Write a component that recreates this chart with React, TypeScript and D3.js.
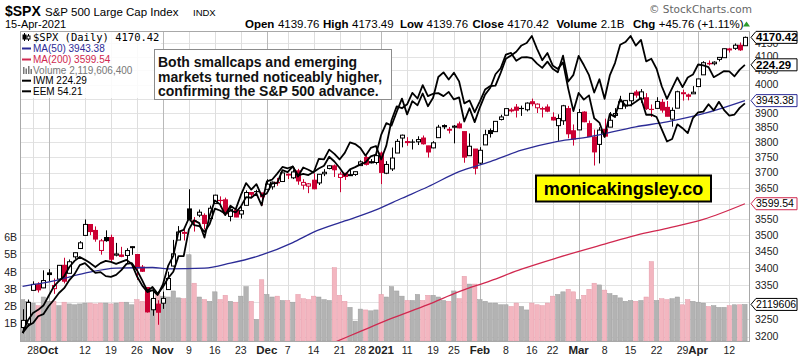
import React from "react";
import * as d3 from "d3";

// ---------- DATA ----------
const dates = [
  "Sep 24","Sep 25","Sep 28","Sep 29","Sep 30","Oct 1","Oct 2","Oct 5","Oct 6","Oct 7","Oct 8","Oct 9",
  "Oct 12","Oct 13","Oct 14","Oct 15","Oct 16","Oct 19","Oct 20","Oct 21","Oct 22","Oct 23","Oct 26","Oct 27",
  "Oct 28","Oct 29","Oct 30","Nov 2","Nov 3","Nov 4","Nov 5","Nov 6","Nov 9","Nov 10","Nov 11","Nov 12","Nov 13",
  "Nov 16","Nov 17","Nov 18","Nov 19","Nov 20","Nov 23","Nov 24","Nov 25","Nov 27","Nov 30","Dec 1","Dec 2","Dec 3",
  "Dec 4","Dec 7","Dec 8","Dec 9","Dec 10","Dec 11","Dec 14","Dec 15","Dec 16","Dec 17","Dec 18","Dec 21","Dec 22",
  "Dec 23","Dec 24","Dec 28","Dec 29","Dec 30","Dec 31","Jan 4","Jan 5","Jan 6","Jan 7","Jan 8","Jan 11","Jan 12",
  "Jan 13","Jan 14","Jan 15","Jan 19","Jan 20","Jan 21","Jan 22","Jan 25","Jan 26","Jan 27","Jan 28","Jan 29","Feb 1",
  "Feb 2","Feb 3","Feb 4","Feb 5","Feb 8","Feb 9","Feb 10","Feb 11","Feb 12","Feb 16","Feb 17","Feb 18","Feb 19",
  "Feb 22","Feb 23","Feb 24","Feb 25","Feb 26","Mar 1","Mar 2","Mar 3","Mar 4","Mar 5","Mar 8","Mar 9","Mar 10",
  "Mar 11","Mar 12","Mar 15","Mar 16","Mar 17","Mar 18","Mar 19","Mar 22","Mar 23","Mar 24","Mar 25","Mar 26",
  "Mar 29","Mar 30","Mar 31","Apr 1","Apr 5","Apr 6","Apr 7","Apr 8","Apr 9","Apr 12","Apr 13","Apr 14","Apr 15"
];

const prevClose = 3236.92;

const open = [
  3226.14,3236.66,3333.90,3350.92,3341.21,3385.87,3338.94,3367.27,3408.74,3384.56,3434.28,3459.67,
  3500.02,3534.01,3515.47,3453.72,3493.50,3493.66,3439.38,3439.91,3438.50,3464.90,3441.42,3403.15,
  3342.48,3277.17,3293.59,3296.20,3336.25,3406.46,3485.74,3508.34,3583.04,3543.26,3563.22,3562.67,3552.57,
  3600.16,3610.31,3612.09,3559.41,3579.31,3566.82,3594.52,3635.50,3638.55,3634.18,3645.87,3653.78,3668.28,
  3670.94,3694.73,3683.05,3705.98,3659.13,3656.08,3675.27,3666.41,3696.25,3713.65,3722.39,3684.28,3698.08,
  3693.42,3694.03,3723.03,3750.01,3736.19,3733.27,3764.61,3698.02,3712.20,3764.71,3815.05,3803.14,3801.62,
  3802.23,3814.98,3788.73,3781.88,3816.22,3857.46,3844.24,3851.68,3862.96,3836.83,3755.75,3778.05,3731.17,
  3791.84,3840.27,3836.66,3878.30,3892.59,3910.49,3920.78,3916.40,3911.65,3939.61,3918.50,3915.86,3921.16,
  3885.55,3857.07,3873.71,3915.80,3839.66,3842.51,3903.64,3863.99,3818.53,3793.58,3844.39,3851.93,3891.99,
  3915.54,3924.52,3942.96,3973.59,3949.57,3953.50,3913.14,3916.48,3937.60,3919.93,3879.34,3917.12,
  3969.31,3963.34,3967.25,3992.78,4034.44,4075.57,4074.29,4089.95,4096.11,4124.71,4130.10,4141.58,4139.76
];
const high = [
  3278.70,3306.88,3360.74,3357.92,3393.56,3397.18,3369.10,3409.57,3431.56,3426.26,3447.28,3482.34,
  3549.85,3534.01,3527.94,3489.08,3515.76,3502.42,3476.93,3464.86,3460.53,3466.46,3441.42,3409.51,
  3342.48,3341.05,3304.93,3330.14,3389.49,3486.25,3529.05,3521.58,3645.99,3557.22,3581.16,3569.02,3593.66,
  3628.51,3623.11,3619.09,3585.22,3581.23,3589.81,3642.31,3635.50,3644.31,3634.18,3678.45,3670.96,3682.73,
  3699.20,3697.41,3708.45,3712.39,3678.49,3665.91,3697.61,3695.29,3711.27,3725.12,3726.70,3702.90,3698.26,
  3711.24,3703.82,3740.51,3756.12,3744.63,3760.20,3769.99,3737.83,3783.04,3811.55,3826.69,3817.86,3810.78,
  3820.96,3823.60,3788.73,3804.53,3859.75,3861.45,3852.31,3859.23,3870.90,3836.83,3830.50,3778.05,3784.32,
  3843.09,3847.51,3872.42,3894.56,3915.77,3918.35,3931.50,3925.99,3937.23,3950.43,3933.61,3921.98,3930.41,
  3902.92,3895.98,3928.65,3925.02,3861.08,3914.50,3906.41,3874.47,3843.67,3851.69,3881.06,3903.76,3917.35,
  3960.27,3944.99,3970.08,3981.04,3983.87,3969.62,3930.12,3955.31,3949.13,3942.08,3919.54,3978.19,
  3981.83,3968.01,3994.41,4020.63,4083.42,4086.23,4083.13,4098.19,4129.48,4131.76,4148.00,4151.69,4173.49
];
const low = [
  3209.45,3228.44,3332.91,3327.54,3340.47,3361.39,3323.69,3367.27,3354.54,3384.56,3428.15,3458.07,
  3499.61,3500.86,3480.55,3440.89,3480.45,3419.93,3435.65,3433.06,3415.34,3440.45,3364.86,3388.71,
  3268.89,3259.82,3233.94,3279.74,3336.25,3405.17,3485.74,3484.34,3547.48,3511.91,3557.00,3518.58,3552.57,
  3600.16,3588.68,3567.33,3543.84,3556.85,3552.77,3594.52,3617.76,3629.33,3594.39,3645.87,3644.84,3657.17,
  3670.94,3678.88,3678.83,3660.54,3645.18,3633.40,3645.84,3659.62,3688.57,3710.87,3685.84,3636.48,3676.16,
  3689.28,3689.32,3723.03,3723.31,3730.21,3726.88,3662.71,3695.07,3705.34,3764.71,3783.60,3789.02,3776.51,
  3791.50,3792.86,3749.62,3780.37,3816.22,3845.05,3830.41,3797.16,3847.78,3732.48,3755.75,3694.12,3725.62,
  3791.84,3816.68,3836.66,3874.93,3892.59,3902.64,3884.94,3890.39,3905.78,3923.85,3900.43,3885.03,3903.07,
  3874.71,3805.59,3859.60,3814.04,3789.54,3842.51,3868.57,3818.86,3723.34,3730.19,3819.25,3851.93,3885.73,
  3915.54,3915.21,3923.54,3953.44,3935.74,3910.86,3886.75,3914.16,3901.57,3889.07,3853.50,3917.12,
  3943.25,3944.35,3966.98,3992.78,4034.44,4068.14,4068.31,4082.54,4095.51,4114.82,4124.43,4120.87,4139.76
];
const close = [
  3246.59,3298.46,3351.60,3335.47,3363.00,3380.80,3348.42,3408.60,3360.97,3419.44,3446.83,3477.14,
  3534.22,3511.93,3488.67,3483.34,3483.81,3426.92,3443.12,3435.56,3453.49,3465.39,3400.97,3390.68,
  3271.03,3310.11,3269.96,3310.24,3369.16,3443.44,3510.45,3509.44,3550.50,3545.53,3572.66,3537.01,3585.15,
  3626.91,3609.53,3567.79,3581.87,3557.54,3577.59,3635.41,3629.65,3638.35,3621.63,3662.45,3669.01,3666.72,
  3699.12,3691.96,3702.25,3672.82,3668.10,3663.46,3647.49,3694.62,3701.17,3722.48,3709.41,3694.92,3687.26,
  3690.01,3703.06,3735.36,3727.04,3732.04,3756.07,3700.65,3726.86,3748.14,3803.79,3824.68,3799.61,3801.19,
  3809.84,3795.54,3768.25,3798.91,3851.85,3853.07,3841.47,3855.36,3849.62,3750.77,3787.38,3714.24,3773.86,
  3826.31,3830.17,3871.74,3886.83,3915.59,3911.23,3909.88,3916.38,3934.83,3932.59,3931.33,3913.97,3906.71,
  3876.50,3881.37,3925.43,3829.34,3811.15,3901.82,3870.29,3819.72,3768.47,3841.94,3821.35,3875.44,3898.81,
  3939.34,3943.34,3968.94,3962.71,3974.12,3915.46,3913.10,3940.59,3910.52,3889.14,3909.52,3974.54,
  3971.09,3958.55,3972.89,4019.87,4077.91,4073.94,4079.95,4097.17,4128.80,4127.99,4141.59,4124.66,4170.42
];

// volume, billions of shares
const volume = [
  2.40,2.30,2.20,2.05,2.55,2.30,2.30,2.05,2.25,2.15,2.10,2.15,
  2.20,2.20,2.15,2.20,2.20,2.15,2.20,2.25,2.25,2.10,2.40,2.30,
  2.70,2.40,2.75,2.60,2.55,2.90,2.50,2.45,5.00,3.35,2.55,2.40,2.30,
  2.85,2.40,2.65,2.30,2.25,2.60,3.15,2.30,1.25,3.55,2.70,2.55,2.60,
  2.35,2.35,2.25,2.70,2.45,2.40,2.60,2.55,2.40,2.35,4.25,2.65,2.30,
  1.95,1.15,1.85,1.80,1.75,1.80,2.70,2.55,3.15,2.90,2.60,2.35,2.35,
  2.70,2.35,2.65,2.65,2.55,2.35,2.30,2.90,2.45,3.75,3.30,3.30,2.40,
  2.30,2.20,2.20,2.10,2.10,2.00,2.20,2.00,1.80,2.20,2.10,2.05,2.20,
  2.60,2.70,2.85,3.00,2.85,2.40,2.65,3.00,3.35,3.25,2.95,2.75,2.65,
  2.50,2.30,2.35,2.30,2.35,2.55,4.60,2.35,2.45,2.40,2.45,2.55,
  2.10,2.40,2.30,2.25,2.20,2.00,2.05,1.95,1.95,2.05,2.10,2.10,2.12
];

const iwm = [
  147.6,149.2,149.9,151.5,152.0,153.9,155.4,157.1,158.3,160.3,161.8,164.1,
  164.6,163.3,162.1,162.3,161.3,161.1,161.6,162.8,164.4,164.6,162.8,160.3,
  157.6,158.6,156.9,158.6,160.8,162.4,166.4,166.4,173.5,176.0,175.2,171.3,177.2,
  181.5,180.4,177.4,180.0,179.0,183.0,186.5,184.6,186.2,182.8,183.5,186.4,186.5,
  190.3,189.7,191.4,188.4,191.1,190.4,189.6,193.7,193.5,196.5,195.2,193.5,195.5,
  198.7,198.2,197.0,194.6,197.0,197.6,193.5,197.7,205.7,210.2,209.6,210.9,214.7,
  212.8,217.3,213.6,214.4,214.6,213.6,215.0,212.5,213.2,205.3,209.6,205.1,209.9,
  214.1,216.4,221.0,223.1,227.9,228.5,225.7,226.9,227.0,226.6,224.7,223.2,225.4,
  222.9,221.7,227.5,218.5,220.8,227.4,224.2,220.7,214.8,219.3,212.7,220.6,224.9,
  231.4,232.4,234.6,231.1,233.2,225.5,226.4,222.9,216.9,212.7,216.3,219.9,
  216.6,219.9,220.9,224.4,224.1,223.5,220.0,221.0,222.1,222.0,220.3,222.6,224.29
];

const eem = [
  42.33,42.90,43.25,43.40,43.60,44.05,44.50,44.77,45.00,45.45,45.75,45.94,
  45.80,45.64,45.45,45.64,45.75,45.70,45.60,45.70,45.80,45.60,45.00,44.56,
  44.24,44.33,44.10,44.60,45.50,46.00,47.20,47.30,47.90,47.55,47.50,47.20,47.60,
  48.40,48.30,48.13,48.30,48.20,48.50,49.00,48.97,49.19,48.57,49.84,49.93,50.26,
  50.62,50.55,50.64,50.17,50.25,50.18,50.35,50.54,50.69,51.18,50.92,50.58,50.17,
  50.49,50.61,50.76,50.87,51.20,51.30,52.40,53.07,52.93,53.72,54.49,53.57,54.34,
  54.10,54.79,54.04,54.54,55.77,56.05,55.62,56.03,55.51,54.21,54.38,53.70,54.33,
  55.02,55.23,55.26,56.02,56.88,57.08,57.31,57.70,57.85,58.29,57.49,56.79,57.23,
  56.47,56.26,56.66,55.08,53.76,54.82,54.43,54.68,53.35,53.10,52.28,53.60,53.42,
  54.46,54.09,54.10,54.30,54.52,53.55,53.56,53.42,52.71,52.03,52.17,53.00,
  52.78,52.50,53.36,53.68,53.73,54.16,53.80,54.30,53.82,53.50,53.56,53.95,54.21
];

const ma50Idx = [0, 6, 12, 18, 25, 28, 35, 40, 46, 52, 56, 62, 68, 73, 78, 84, 90, 96, 103, 109, 118, 124, 131, 139];
const ma50Val = [3346, 3362, 3385, 3400, 3402, 3398, 3400, 3415, 3440, 3478, 3510, 3545, 3580, 3617, 3654, 3703, 3736, 3774, 3804, 3819, 3853, 3870, 3898, 3943.38];

const ma200Idx = [50, 60, 65, 71, 78, 84, 90, 96, 103, 112, 118, 124, 131, 139];
const ma200Val = [3125, 3184, 3215, 3252, 3292, 3330, 3362, 3397, 3432, 3473, 3500, 3522, 3550, 3599.54];

// right-axis labels that the reference shows (others are hidden behind the value tags)
const priceTicks = [3200, 3250, 3300, 3350, 3400, 3450, 3500, 3550, 3600, 3650, 3700, 3750, 3800, 3850, 3900, 3950, 4000, 4050, 4100, 4150];
const priceLabels = [3200, 3250, 3350, 3400, 3450, 3500, 3550, 3650, 3700, 3750, 3800, 3850, 3900, 4000, 4050, 4100, 4150];
const volTicks = [1, 2, 3, 4, 5, 6];
const xTickIdx = [2, 5, 12, 17, 22, 27, 32, 37, 42, 47, 51, 56, 61, 65, 69, 74, 79, 83, 88, 93, 98, 102, 107, 112, 117, 122, 127, 130, 136];
const xTickLabels = ["28", "Oct", "12", "19", "26", "Nov", "9", "16", "23", "Dec", "7", "14", "21", "28", "2021", "11", "19", "25", "Feb", "8", "16", "22", "Mar", "8", "15", "22", "29", "Apr", "12"];
const xTickMajor = ["Oct", "Nov", "Dec", "2021", "Feb", "Mar", "Apr"];

// header quote line: [label, value]
const quoteItems = [
  ["Open", "4139.76"], ["High", "4173.49"], ["Low", "4139.76"], ["Close", "4170.42"], ["Volume", "2.1B"], ["Chg", "+45.76 (+1.11%)"]
];
const quoteX = [245, 323, 400, 472.5, 556.5, 633];

// ---------- LAYOUT ----------
const PL = 20, PR = 750, PT = 31, PB = 342;
const FONT = "'Liberation Sans', Arial, Helvetica, sans-serif";
const RED = "#cc0033";
const BLUE = "#2b2b96";
const MARED = "#d0284f";

function Tag({ yc, text, color, bold }: { yc: number; text: string; color: string; bold?: boolean }) {
  const x0 = 751, x1 = 797, h = 6;
  const d = `M${x0},${yc} L${x0 + 5},${yc - h} L${x1},${yc - h} L${x1},${yc + h} L${x0 + 5},${yc + h} Z`;
  return (
    <g>
      <path d={d} fill="#fff" stroke={color} strokeWidth={1} />
      <text x={x0 + 5} y={yc} dy="0.35em" fontSize={bold ? 11.5 : 10.5} fontWeight={bold ? "bold" : "normal"} fill="#000">{text}</text>
    </g>
  );
}

export default function App() {
  const n = close.length;
  const xc = d3.scaleLinear().domain([0, n - 1]).range([22.6, 744.9]);
  const y = d3.scaleLog().domain([3185, 4194]).range([PB, PT]);
  const yv = d3.scaleLinear().domain([0, 6]).range([341, 237.5]);
  const yI = d3.scaleLog().domain(d3.extent(iwm) as [number, number]).range([333, 36]);
  const yE = d3.scaleLog().domain(d3.extent(eem) as [number, number]).range([333, 36]);

  const lineI = d3.line<number>().x((_, i) => xc(i)).y((d) => yI(d))(iwm) || "";
  const lineE = d3.line<number>().x((_, i) => xc(i)).y((d) => yE(d))(eem) || "";
  const ma50 = d3.line<number>().x((i) => xc(i)).y((_, j) => y(ma50Val[j])).curve(d3.curveMonotoneX)(ma50Idx) || "";
  const ma200 = d3.line<number>().x((i) => xc(i)).y((_, j) => y(ma200Val[j])).curve(d3.curveMonotoneX)(ma200Idx) || "";

  const up = close.map((c, i) => c >= (i === 0 ? prevClose : close[i - 1]));

  return (
    <svg width={803} height={359} viewBox="0 0 803 359" fontFamily={FONT}
      style={{ position: "absolute", left: 0, top: 0, display: "block", background: "#fff" }}>
      <defs>
        <clipPath id="plotclip">
          <rect x={PL} y={PT} width={PR - PL} height={PB - PT} />
        </clipPath>
      </defs>
      <rect x={0} y={0} width={803} height={359} fill="#fff" />

      {/* header */}
      <text x={5} y={15.5} fontSize={14} fontWeight="bold">$SPX</text>
      <text x={45} y={15.5} fontSize={11.5}>S&amp;P 500 Large Cap Index</text>
      <text x={193} y={15.5} fontSize={9.5}>INDX</text>
      <text x={5} y={27.5} fontSize={11}>15-Apr-2021</text>
      <g fontSize={11.5}>
        {quoteItems.map((q, i) => (
          <text key={q[0]} x={quoteX[i]} y={27.5}>
            <tspan fontWeight="bold">{q[0]}</tspan>
            <tspan dx={3.5}>{q[1]}</tspan>
          </text>
        ))}
      </g>
      <path d="M743,26.5 L750,26.5 L746.5,21.5 Z" fill="#2a9a2a" />
      <text x={752} y={13} fontSize={10.5} fill="#666" textAnchor="end" fontFamily="'DejaVu Sans', Verdana, sans-serif">© StockCharts.com</text>

      {/* grid */}
      <g>
        {priceTicks.map((t) => (
          <line key={t} x1={PL} x2={PR} y1={Math.round(y(t)) + 0.5} y2={Math.round(y(t)) + 0.5} stroke="#e3e3e3" strokeWidth={1} />
        ))}
        {xTickIdx.map((k, i) => (
          <line key={k} x1={Math.round(xc(k)) + 0.5} x2={Math.round(xc(k)) + 0.5} y1={PT} y2={PB}
            stroke={xTickMajor.includes(xTickLabels[i]) ? "#b9b9b9" : "#dedede"} strokeWidth={1} />
        ))}
      </g>

      <g clipPath="url(#plotclip)">
        {/* volume */}
        {volume.map((v, i) => (
          <rect key={i} x={xc(i) - 2.2} y={yv(v)} width={4.4} height={341 - yv(v)}
            fill={up[i] ? "#b3b3b3" : "#f3b6c0"} stroke={up[i] ? "#9c9c9c" : "#e49aa8"} strokeWidth={0.5} />
        ))}

        {/* candles */}
        {close.map((c, i) => {
          const o = open[i];
          const col = up[i] ? "#000" : RED;
          const cx = Math.round(xc(i)) + 0.5;
          const yTop = y(Math.max(o, c));
          const yBot = y(Math.min(o, c));
          const hollow = c > o;
          return (
            <g key={i}>
              <line x1={cx} x2={cx} y1={y(high[i])} y2={y(low[i])} stroke={col} strokeWidth={1} />
              {hollow ? (
                <rect x={cx - 2} y={yTop} width={4} height={Math.max(yBot - yTop, 1)} fill="#fff" stroke={col} strokeWidth={1} />
              ) : (
                <rect x={cx - 2.5} y={yTop - 0.5} width={5} height={Math.max(yBot - yTop + 1, 1.2)} fill={col} />
              )}
            </g>
          );
        })}

        {/* moving averages */}
        <path d={ma50} fill="none" stroke={BLUE} strokeWidth={1.3} />
        <path d={ma200} fill="none" stroke={MARED} strokeWidth={1.3} />

        {/* overlays */}
        <path d={lineI} fill="none" stroke="#000" strokeWidth={1.8} strokeLinejoin="round" />
        <path d={lineE} fill="none" stroke="#000" strokeWidth={1.8} strokeLinejoin="round" />
      </g>

      {/* plot border */}
      <rect x={PL + 0.5} y={PT + 0.5} width={PR - PL - 1} height={PB - PT - 1} fill="none" stroke="#a8a8a8" strokeWidth={1} />

      {/* legend */}
      <rect x={PL + 1} y={PT + 1} width={140} height={66} fill="#fff" opacity={0.85} />
      <g fontSize={10}>
        <g transform="translate(23,33)" stroke="#000" strokeWidth={1}>
          <line x1={1.5} x2={1.5} y1={0} y2={8} />
          <rect x={0} y={2} width={3} height={4} fill="#000" />
          <line x1={5.5} x2={5.5} y1={1} y2={8} />
          <rect x={4} y={3} width={3} height={3} fill="#fff" />
        </g>
        <text x={33} y={37.5} dy="0.35em" fontSize={10.5} fontFamily="'DejaVu Sans Mono', monospace">$SPX (Daily) 4170.42</text>
        <line x1={22} x2={31} y1={48.5} y2={48.5} stroke={BLUE} strokeWidth={2} />
        <text x={33} y={48.5} dy="0.35em" fill={BLUE}>MA(50) 3943.38</text>
        <line x1={22} x2={31} y1={59.5} y2={59.5} stroke={MARED} strokeWidth={2} />
        <text x={33} y={59.5} dy="0.35em" fill={MARED}>MA(200) 3599.54</text>
        <g fill="#777">
          <rect x={23} y={67} width={1.5} height={7} />
          <rect x={25.5} y={68.5} width={1.5} height={5.5} />
          <rect x={28} y={66} width={1.5} height={8} />
          <rect x={30.5} y={69} width={1.5} height={5} />
        </g>
        <text x={33} y={70.3} dy="0.35em" fill="#777">Volume 2,119,606,400</text>
        <line x1={22} x2={31} y1={80.7} y2={80.7} stroke="#000" strokeWidth={2} />
        <text x={33} y={80.7} dy="0.35em" fill="#000">IWM 224.29</text>
        <line x1={22} x2={31} y1={91.3} y2={91.3} stroke="#000" strokeWidth={2} />
        <text x={33} y={91.3} dy="0.35em" fill="#000">EEM 54.21</text>
      </g>

      {/* annotation */}
      <rect x={154.5} y={49.5} width={237} height={50} fill="#fff" stroke="#8c8c8c" strokeWidth={1} />
      <g fontSize={14} fontWeight="bold" fill="#111">
        <text x={158} y={67}>Both smallcaps and emerging</text>
        <text x={158} y={81.5}>markets turned noticeably higher,</text>
        <text x={158} y={96}>confirming the S&amp;P 500 advance.</text>
      </g>

      <rect x={536} y={175.5} width={175} height={26} fill="#ffff00" stroke="#000" strokeWidth={2} />
      <text x={623.5} y={188.5} dy="0.36em" fontSize={18} fontWeight="bold" textAnchor="middle">monicakingsley.co</text>

      {/* right axis */}
      <g fontSize={10.5} fill="#222">
        {priceLabels.map((t) => (
          <text key={t} x={755} y={y(t)} dy="0.35em">{t}</text>
        ))}
      </g>
      {/* left volume axis */}
      <g fontSize={10.5} fill="#222">
        {volTicks.map((t) => (
          <text key={t} x={17} y={yv(t)} dy="0.35em" textAnchor="end">{t}B</text>
        ))}
      </g>
      {/* x axis */}
      <g fontSize={10.5} fill="#222">
        {xTickIdx.map((k, i) => (
          <text key={k} x={xc(k)} y={353.5} textAnchor="middle"
            fontWeight={xTickMajor.includes(xTickLabels[i]) ? "bold" : "normal"}
            fontSize={xTickMajor.includes(xTickLabels[i]) ? 11.5 : 10.5}>{xTickLabels[i]}</text>
        ))}
      </g>

      {/* tags */}
      <Tag yc={yv(volume[n - 1])} text="2119606" color="#000" />
      <Tag yc={y(ma200Val[ma200Val.length - 1])} text="3599.54" color={MARED} />
      <Tag yc={y(ma50Val[ma50Val.length - 1])} text="3943.38" color={BLUE} />
      <Tag yc={yI(iwm[n - 1])} text="224.29" color="#000" bold />
      <Tag yc={y(close[n - 1])} text="4170.42" color="#000" bold />
    </svg>
  );
}
